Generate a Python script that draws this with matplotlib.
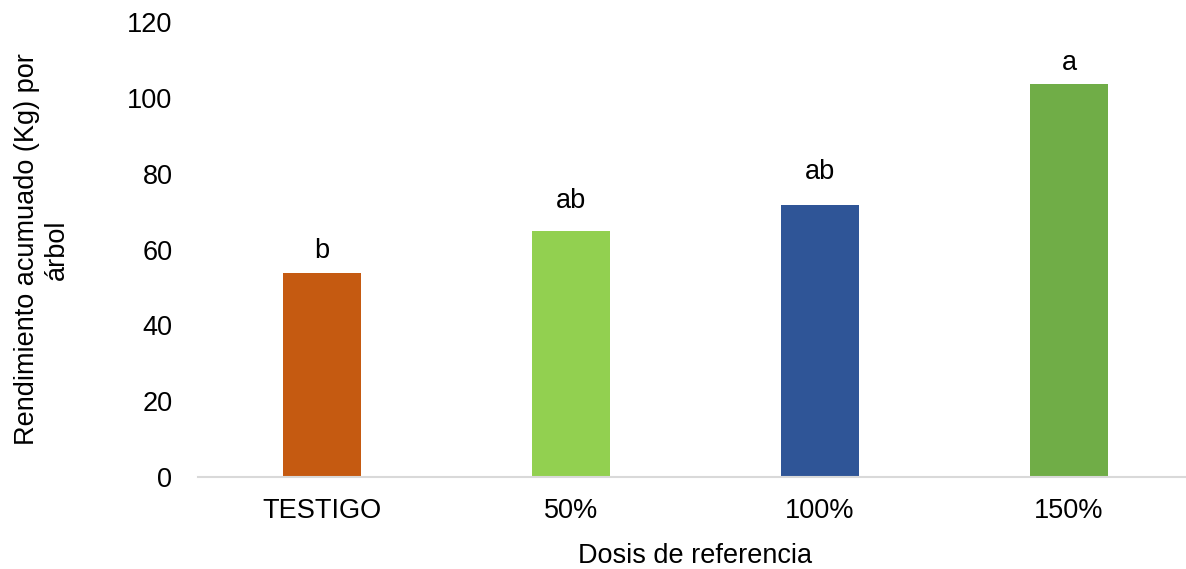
import matplotlib
matplotlib.use("Agg")
import matplotlib.pyplot as plt

categories = ["TESTIGO", "50%", "100%", "150%"]
values = [53.8, 64.9, 71.8, 103.7]
letters = ["b", "ab", "ab", "a"]
colors = ["#C55A11", "#92D050", "#2F5597", "#70AD47"]

# vertical gap (in points) between each bar top and its letter baseline
letter_gaps = [10.8, 16.6, 18.7, 10.1]

plt.rcParams["font.family"] = ["Liberation Sans", "DejaVu Sans"]

W, H = 1186, 569
FS = 19.5
fig = plt.figure(figsize=(W / 100, H / 100), dpi=100)
ax = fig.add_axes([197.5 / W, (H - 477) / H, 996 / W, 455 / H])

x = range(len(categories))
ax.bar(x, values, width=0.315, color=colors, zorder=2)

for xi, v, lab, gap in zip(x, values, letters, letter_gaps):
    ax.annotate(lab, (xi, v), xytext=(0, gap), textcoords="offset points",
                ha="center", va="baseline", fontsize=FS, color="#000000")

ax.set_xlim(-0.5, len(categories) - 0.5)
ax.set_ylim(0, 120)
ax.set_yticks(range(0, 121, 20))
ax.set_xticks(list(x))
ax.set_xticklabels(categories)
ax.tick_params(axis="both", length=0, labelsize=FS, colors="#000000")
ax.tick_params(axis="x", pad=15)
ax.tick_params(axis="y", pad=18)

for side in ["top", "right", "left"]:
    ax.spines[side].set_visible(False)
ax.spines["bottom"].set_color("#D9D9D9")
ax.spines["bottom"].set_linewidth(1.5)

ax.set_xlabel("Dosis de referencia", fontsize=FS, labelpad=14)
fig.text(42 / W, 0.5 * ((H - 22) + (H - 477)) / H,
         "Rendimiento acumuado (Kg) por\nárbol", rotation=90,
         ha="center", va="center", fontsize=FS, multialignment="center",
         linespacing=1.15)

fig.savefig("out.png", dpi=100)
